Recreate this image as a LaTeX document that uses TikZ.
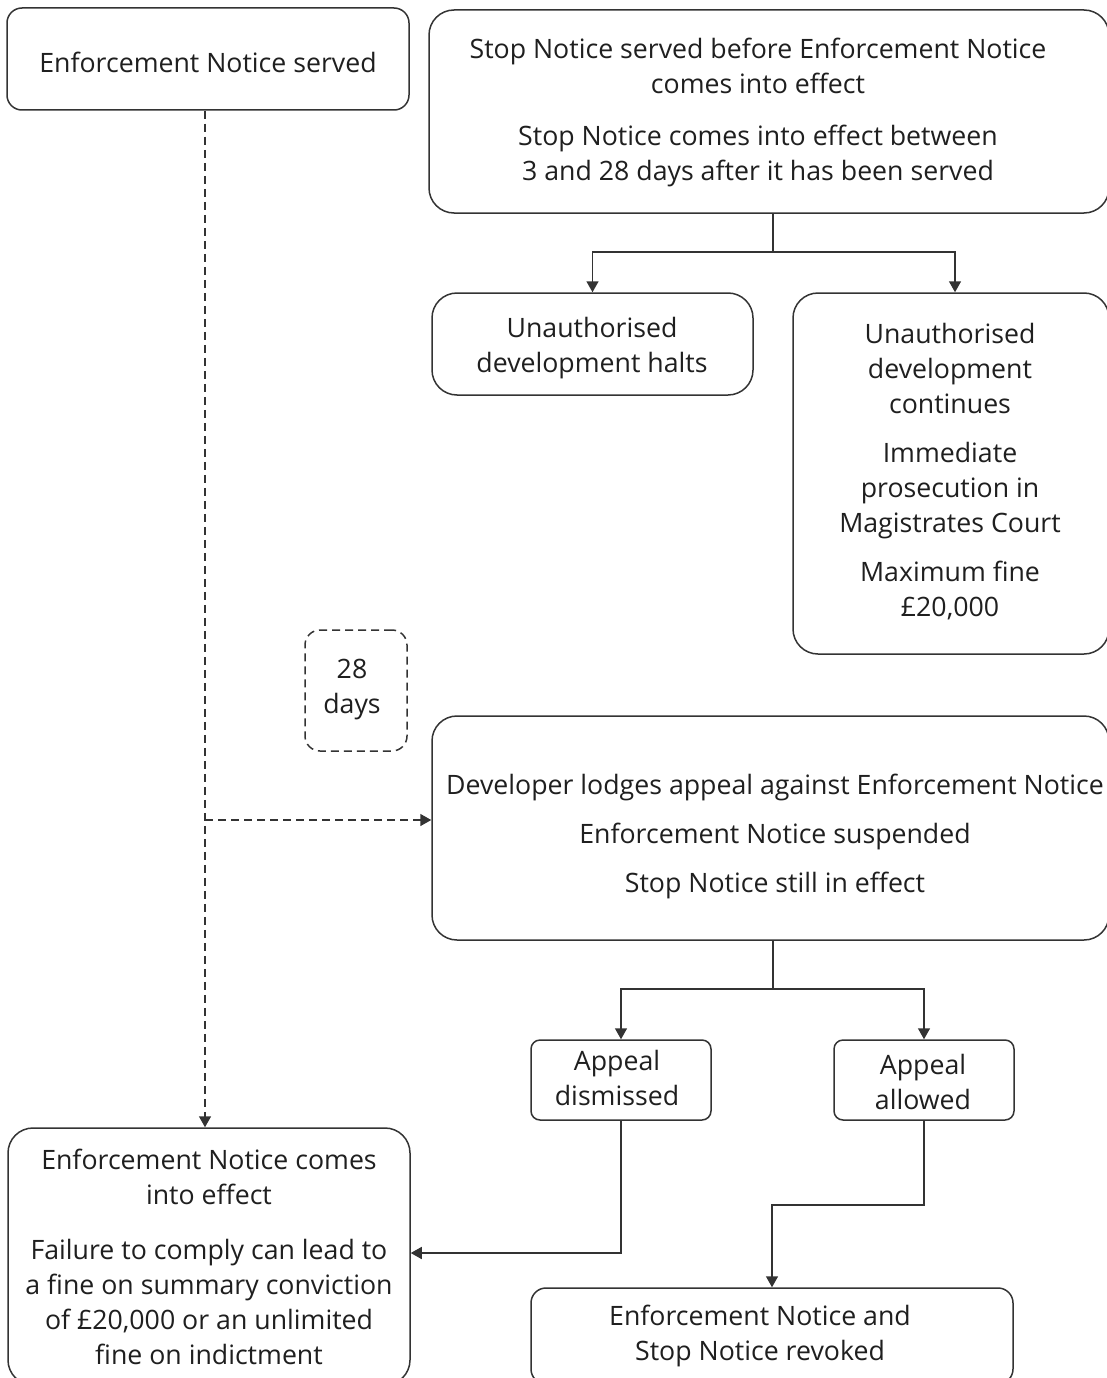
\documentclass[tikz,border=0pt]{standalone}
\usepackage{fontspec}
\setmainfont{Open Sans}
\usetikzlibrary{arrows.meta}
\definecolor{ink}{gray}{0.12}
\definecolor{linegray}{gray}{0.2}
\begin{document}
\begin{tikzpicture}[x=1pt,y=-1pt,
  box/.style={draw=linegray, line width=1.5pt, rounded corners=#1,
              inner sep=0pt, fill=white},
  box/.default=25pt,
  dashbox/.style={box=#1, dash pattern=on 8pt off 5pt},
  txt/.style={align=center, inner sep=0pt, anchor=north, text=ink,
              font=\fontsize{26.7}{35}\selectfont},
  link/.style={draw=linegray, line width=1.5pt},
  arr/.style={link, -{Triangle[width=12pt,length=11pt]}},
  dlink/.style={link, dash pattern=on 8pt off 5pt},
  darr/.style={dlink, -{Triangle[width=12pt,length=11pt]}}]

\useasboundingbox (0,0) rectangle (1107,1378);

% boxes (centre, size)
\node[box=15pt, minimum width=402pt, minimum height=102pt] (ensrv) at (208,59) {};
\node[box, minimum width=680pt, minimum height=203pt] (stop) at (769,111.5) {};
\node[box, minimum width=321pt, minimum height=102pt] (halts) at (592.5,344) {};
\node[box, minimum width=316pt, minimum height=361pt] (cont) at (951,473.5) {};
\node[dashbox=15pt, minimum width=102pt, minimum height=121pt] (days) at (356,690.5) {};
\node[box, minimum width=677pt, minimum height=224pt] (appeal) at (770.5,828) {};
\node[box=9pt, minimum width=180pt, minimum height=80pt] (dism) at (621,1080) {};
\node[box=9pt, minimum width=180pt, minimum height=80pt] (allow) at (924,1080) {};
\node[box, minimum width=402pt, minimum height=257pt] (effect) at (209,1256.5) {};
\node[box=15pt, minimum width=482pt, minimum height=96pt] (revk) at (772,1336) {};

% texts (anchored 24.5pt above the first baseline)
\node[txt] (ensrvT) at (208,47.5) {\strut Enforcement Notice served};
\node[txt] (stopT) at (758,33.5) {\strut Stop Notice served before Enforcement Notice\\
  comes into effect\\[17pt]
  Stop Notice comes into effect between\\
  3 and 28 days after it has been served};
\node[txt] (haltsT) at (592,312.5) {\strut Unauthorised\\ development halts};
\node[txt] (contT) at (950,318.5) {\strut Unauthorised\\ development\\ continues\\[14pt]
  Immediate\\ prosecution in\\ Magistrates Court\\[14pt]
  Maximum fine\\ \pounds20,000};
\node[txt] (daysT) at (352,653.5) {\strut 28\\ days};
\node[txt] (appealT) at (775,769.5) {\strut Developer lodges appeal against Enforcement Notice\\[14pt]
  Enforcement Notice suspended\\[14pt]
  Stop Notice still in effect};
\node[txt] (dismT) at (617,1045.5) {\strut Appeal\\ dismissed};
\node[txt] (allowT) at (923,1049.5) {\strut Appeal\\ allowed};
\node[txt] (effectT) at (209,1145) {\strut Enforcement Notice comes\\ into effect\\[20pt]
  Failure to comply can lead to\\ a fine on summary conviction\\
  of \pounds20,000 or an unlimited\\ fine on indictment};
\node[txt] (revkT) at (760,1300.5) {\strut Enforcement Notice and\\ Stop Notice revoked};

% the 28-day route
\coordinate (ensrvOut) at ([xshift=-3pt]ensrv.south);
\coordinate (tap) at (ensrvOut |- 0,820);
\draw[darr] (ensrvOut) -- (ensrvOut |- effect.north);
\draw[darr] (tap) -- (tap -| appeal.west);

% stop notice branches
\coordinate (stopOut) at (stop.south -| 773,0);
\coordinate (fork1) at (773,252);
\draw[link] (stopOut) -- (fork1);
\draw[arr] (fork1) -| (halts.north);
\draw[arr] (fork1) -| ([xshift=4pt]cont.north);

% appeal outcomes
\coordinate (appealOut) at (appeal.south -| 773,0);
\coordinate (fork2) at (773,989);
\draw[link] (appealOut) -- (fork2);
\draw[arr] (fork2) -| (dism.north);
\draw[arr] (fork2) -| (allow.north);

\draw[arr] (dism.south) |- (effect.east |- 0,1253);
\coordinate (bend) at (772,1205);
\draw[arr] (allow.south) |- (bend) -- (bend |- revk.north);

\end{tikzpicture}
\end{document}
